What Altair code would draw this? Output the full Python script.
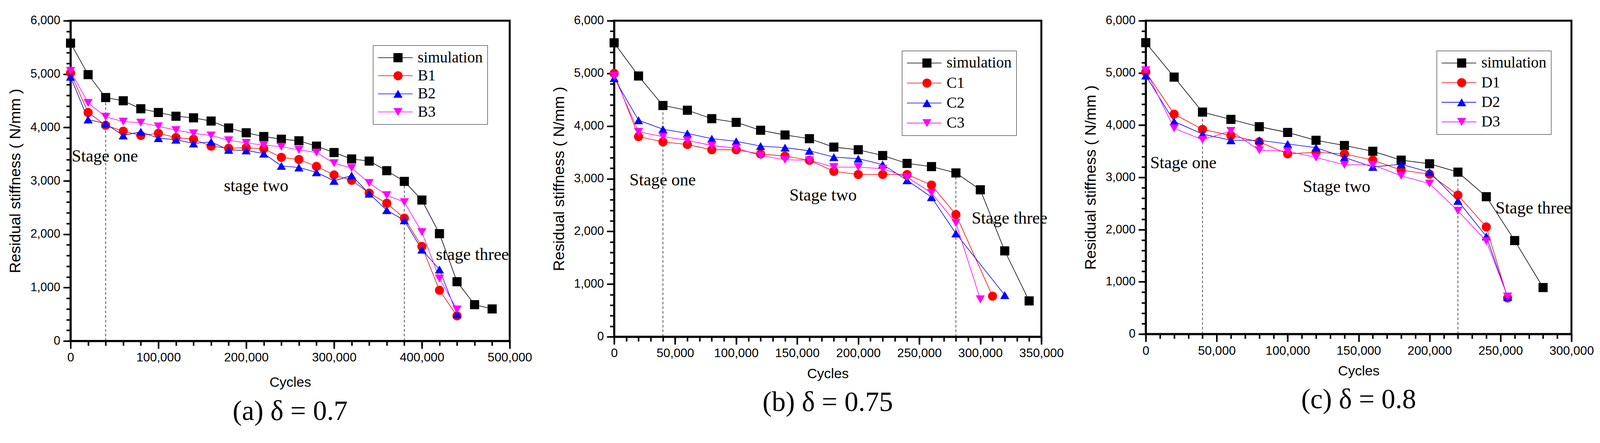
import altair as alt
import pandas as pd

# ---------------- data ----------------
# (a) delta = 0.7
CYC_A_SIM = [0, 20000, 40000, 60000, 80000, 100000, 120000, 140000, 160000, 180000,
             200000, 220000, 240000, 260000, 280000, 300000, 320000, 340000, 360000,
             380000, 400000, 420000, 440000, 460000, 480000]
SIM_A = [5580, 4990, 4560, 4500, 4350, 4280, 4210, 4180, 4120, 3990, 3900, 3830, 3780,
         3750, 3650, 3530, 3410, 3370, 3190, 2990, 2640, 2010, 1110, 680, 600]
CYC_A_EXP = [0, 20000, 40000, 60000, 80000, 100000, 120000, 140000, 160000, 180000,
             200000, 220000, 240000, 260000, 280000, 300000, 320000, 340000, 360000,
             380000, 400000, 420000, 440000]
B1 = [5020, 4280, 4040, 3930, 3850, 3890, 3810, 3780, 3650, 3610, 3620, 3600, 3440,
      3400, 3270, 3110, 3010, 2770, 2580, 2300, 1770, 950, 470]
B2 = [4950, 4150, 4070, 3850, 3920, 3800, 3770, 3700, 3730, 3580, 3570, 3510, 3280,
      3250, 3160, 3000, 3100, 2760, 2450, 2260, 1710, 1340, 500]
B3 = [5060, 4460, 4200, 4110, 4090, 4020, 3950, 3890, 3850, 3760, 3710, 3670, 3640,
      3580, 3530, 3330, 3240, 2960, 2730, 2600, 2040, 1170, 590]

# (b) delta = 0.75
CYC_B_SIM = [0, 20000, 40000, 60000, 80000, 100000, 120000, 140000, 160000, 180000,
             200000, 220000, 240000, 260000, 280000, 300000, 320000, 340000]
SIM_B = [5580, 4950, 4390, 4300, 4140, 4070, 3920, 3830, 3760, 3600, 3550, 3440, 3290,
         3230, 3110, 2790, 1630, 680]
CYC_B_BASE = [0, 20000, 40000, 60000, 80000, 100000, 120000, 140000, 160000, 180000,
              200000, 220000, 240000, 260000, 280000]
CYC_C1 = CYC_B_BASE + [310000]
CYC_C2 = CYC_B_BASE + [320000]
CYC_C3 = CYC_B_BASE + [300000]
C1 = [5000, 3800, 3700, 3650, 3550, 3550, 3470, 3430, 3350, 3140, 3080, 3080, 3080,
      2880, 2320, 770]
C2 = [4910, 4110, 3940, 3860, 3760, 3710, 3620, 3590, 3530, 3410, 3380, 3270, 2970,
      2650, 1960, 790]
C3 = [4950, 3890, 3800, 3730, 3630, 3580, 3440, 3360, 3350, 3220, 3220, 3190, 3030,
      2730, 2160, 710]

# (c) delta = 0.8
CYC_C_SIM = [0, 20000, 40000, 60000, 80000, 100000, 120000, 140000, 160000, 180000,
             200000, 220000, 240000, 260000, 280000]
SIM_C = [5580, 4920, 4250, 4110, 3970, 3860, 3710, 3610, 3500, 3330, 3260, 3100, 2630,
         1790, 890]
CYC_C_EXP = [0, 20000, 40000, 60000, 80000, 100000, 120000, 140000, 160000, 180000,
             200000, 220000, 240000, 255000]
D1 = [5020, 4210, 3920, 3800, 3680, 3450, 3480, 3450, 3330, 3140, 3060, 2660, 2050, 690]
D2 = [4950, 4070, 3830, 3710, 3710, 3640, 3570, 3380, 3200, 3250, 3100, 2550, 1870, 710]
D3 = [5050, 3940, 3720, 3890, 3520, 3500, 3380, 3240, 3240, 3030, 2880, 2360, 1780, 720]

# dashed stage boundaries: cycles and the stiffness they rise to
RULE_A = ([40000, 380000], [4560, 2990])
RULE_B = ([40000, 280000], [4390, 3110])
RULE_C = ([40000, 220000], [4250, 3100])

# stage annotations: text, cycles, stiffness
STAGE_A = (["Stage one", "stage two", "stage three"], [1300, 174600, 416000], [3455, 2896, 1613])
STAGE_B = (["Stage one", "Stage two", "Stage three"], [12600, 143600, 292900], [2967, 2681, 2242])
STAGE_C = (["Stage one", "Stage two", "Stage three"], [3100, 110800, 246500], [3274, 2813, 2405])

Y_MAJOR = [0, 1000, 2000, 3000, 4000, 5000, 6000]
Y_MINOR = list(range(0, 6001, 200))

COLORS = ["black", "#ff0000", "#0000ff", "#ff00ff"]
SHAPES = ["square", "circle", "triangle-up", "triangle-down"]


def long_df(names, xs_list, ys_list):
    rows = []
    for n, xs, ys in zip(names, xs_list, ys_list):
        for x, y in zip(xs, ys):
            rows.append({"cycles": x, "stiffness": y, "series": n, "line_key": n + " "})
    return pd.DataFrame(rows)


def panel(df, names, rule, stage, x_max, x_major, x_minor, w, h,
          lx, ly, row_pad, caption, x_title_pad):
    xs = alt.Scale(domain=[0, x_max], nice=False)
    ys = alt.Scale(domain=[0, 6000], nice=False)
    x_plain = alt.X("cycles:Q", scale=xs, axis=None)
    y_plain = alt.Y("stiffness:Q", scale=ys, axis=None)

    rules_df = pd.DataFrame({"cycles": rule[0], "top": rule[1], "base": [0, 0]})
    stage_df = pd.DataFrame({"label": stage[0], "cycles": stage[1], "stiffness": stage[2]})

    # dashed rules, also carrying the minor tick axes
    minor = alt.Chart(rules_df).mark_rule(
        strokeDash=[7, 5], strokeWidth=1.3, color="black"
    ).encode(
        x=alt.X("cycles:Q", scale=xs, axis=alt.Axis(
            orient="bottom", values=x_minor, labels=False, domain=False,
            tickSize=12, tickWidth=4, title=None, grid=False)),
        y=alt.Y("base:Q", scale=ys, axis=alt.Axis(
            orient="left", values=Y_MINOR, labels=False, domain=False,
            tickSize=11, tickWidth=4, title=None, grid=False)),
        y2="top:Q",
    )

    # legend drawn twice at the same spot: line strokes, frame and labels,
    # then the markers alone on top
    line_legend = alt.Legend(
        orient="none", legendX=lx, legendY=ly, title=None, strokeColor="black",
        padding=12, labelFontSize=40, labelFont="Liberation Serif", labelColor="black",
        labelExpr="trim(datum.label)",
        labelLimit=400, labelOffset=12, rowPadding=row_pad, clipHeight=40,
        symbolType="stroke", symbolSize=8100, symbolStrokeWidth=1.6, symbolOffset=0,
    )
    mark_legend = alt.Legend(
        orient="none", legendX=lx + 33, legendY=ly, title=None,
        padding=12, labelFontSize=40, labelExpr="''",
        labelLimit=400, labelOffset=45, rowPadding=row_pad, clipHeight=40,
        symbolSize=560, symbolStrokeWidth=0, symbolOffset=0,
    )

    lines = alt.Chart(df).mark_line(strokeWidth=1.6).encode(
        x=alt.X("cycles:Q", scale=xs, axis=alt.Axis(
            orient="bottom", values=x_major, format=",d", title="Cycles",
            labelFontSize=32, titleFontSize=36, tickSize=20, tickWidth=4,
            domainWidth=5, labelPadding=8, titlePadding=x_title_pad,
            labelFlush=False, labelOverlap=False, grid=False)),
        y=alt.Y("stiffness:Q", scale=ys, axis=alt.Axis(
            orient="left", values=Y_MAJOR, format=",d",
            title="Residual stiffness ( N/mm )",
            labelFontSize=31, titleFontSize=40, tickSize=19, tickWidth=4,
            domainWidth=5, labelPadding=8, titlePadding=18, grid=False)),
        stroke=alt.Stroke("line_key:N", scale=alt.Scale(domain=[n + " " for n in names], range=COLORS),
                          legend=line_legend),
    )

    points = alt.Chart(df).mark_point(filled=True, size=560, opacity=1).encode(
        x=x_plain, y=y_plain,
        color=alt.Color("series:N", scale=alt.Scale(domain=names, range=COLORS), legend=mark_legend),
        shape=alt.Shape("series:N", scale=alt.Scale(domain=names, range=SHAPES), legend=mark_legend),
    )

    texts = alt.Chart(stage_df).mark_text(
        font="Liberation Serif", fontSize=44, align="left", baseline="middle", color="black"
    ).encode(x=x_plain, y=y_plain, text="label:N")

    return alt.layer(minor, lines, points, texts).resolve_axis(
        x="independent", y="independent"
    ).properties(
        width=w, height=h,
        title=alt.TitleParams(caption, orient="bottom", font="Liberation Serif",
                              fontSize=72, fontWeight="normal", color="black",
                              anchor="middle", offset=22),
    )


names_a = ["simulation", "B1", "B2", "B3"]
names_b = ["simulation", "C1", "C2", "C3"]
names_c = ["simulation", "D1", "D2", "D3"]

df_a = long_df(names_a, [CYC_A_SIM, CYC_A_EXP, CYC_A_EXP, CYC_A_EXP], [SIM_A, B1, B2, B3])
df_b = long_df(names_b, [CYC_B_SIM, CYC_C1, CYC_C2, CYC_C3], [SIM_B, C1, C2, C3])
df_c = long_df(names_c, [CYC_C_SIM, CYC_C_EXP, CYC_C_EXP, CYC_C_EXP], [SIM_C, D1, D2, D3])

pa = panel(df_a, names_a, RULE_A, STAGE_A, 500000,
           [0, 100000, 200000, 300000, 400000, 500000],
           list(range(0, 500001, 20000)), 1140, 832, 785, 64, 7,
           "(a) δ = 0.7", 32)
pb = panel(df_b, names_b, RULE_B, STAGE_B, 350000,
           [0, 50000, 100000, 150000, 200000, 250000, 300000, 350000],
           list(range(0, 350001, 10000)), 1109, 821, 747, 78, 12,
           "(b) δ = 0.75", 20)
pc = panel(df_c, names_c, RULE_C, STAGE_C, 300000,
           [0, 50000, 100000, 150000, 200000, 250000, 300000],
           list(range(0, 300001, 10000)), 1105, 814, 755, 78, 11,
           "(c) δ = 0.8", 20)

chart = alt.hconcat(pa, pb, pc, spacing=271, bounds="flush").resolve_scale(
    color="independent", shape="independent", stroke="independent"
).resolve_legend(
    color="independent", shape="independent", stroke="independent"
).properties(
    padding={"left": 9, "top": 19, "right": 5, "bottom": 5}
).configure_view(
    stroke="black", strokeWidth=5
).configure_axis(
    labelFont="Liberation Sans", titleFont="Liberation Sans", labelColor="black",
    titleColor="black", domainColor="black", tickColor="black", titleFontWeight="normal",
)

chart.save("out.html", embed_options={"renderer": "svg", "actions": False})
